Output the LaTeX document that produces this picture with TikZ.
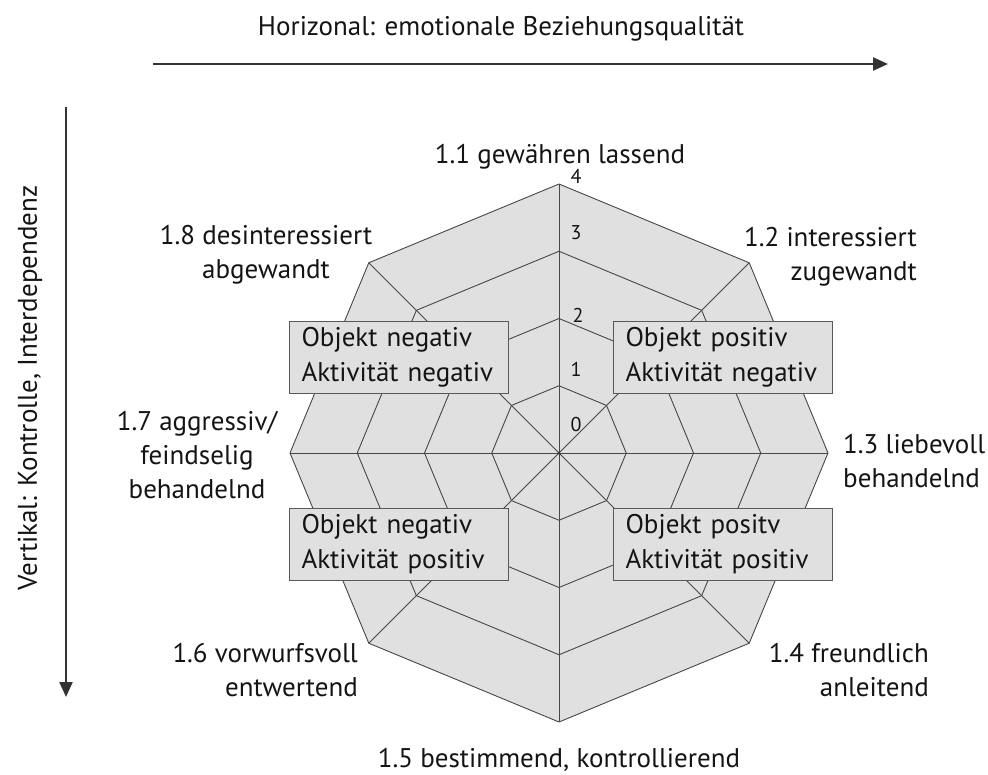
\documentclass[tikz,border=0pt]{standalone}
\usepackage{fontspec}
\setmainfont{PT Sans}
\usetikzlibrary{calc,arrows.meta}
\begin{document}
\begin{tikzpicture}[x=1pt,y=-1pt,
  lbl/.style={font=\fontsize{27}{34}\selectfont, inner sep=0pt, text=black!92},
  num/.style={font=\fontsize{20}{22}\selectfont, inner sep=0pt, text=black!92},
  quad/.style={draw=black!65, fill=black!12, line width=1pt, anchor=north west,
    minimum width=219pt, minimum height=72pt, text width=195pt, inner xsep=12pt,
    inner ysep=0pt, align=left, font=\fontsize{27}{35}\selectfont, text=black!92},
  web/.style={draw=black!72, line width=0.9pt},
  axis/.style={draw=black!80, line width=2.3pt, -{Triangle[length=15pt,width=13pt]}}]
\useasboundingbox (0,0) rectangle (988,774);
\coordinate (C) at (559,453);
% fill
\fill[black!12] ($(C)+(90:269)$) -- ($(C)+(45:269)$) -- ($(C)+(0:269)$) -- ($(C)+(-45:269)$)
  -- ($(C)+(-90:269)$) -- ($(C)+(-135:269)$) -- ($(C)+(180:269)$) -- ($(C)+(135:269)$) -- cycle;
% rings
\foreach \r in {67.25,134.5,201.75,269} {
  \draw[web] ($(C)+(90:\r)$) -- ($(C)+(45:\r)$) -- ($(C)+(0:\r)$) -- ($(C)+(-45:\r)$)
    -- ($(C)+(-90:\r)$) -- ($(C)+(-135:\r)$) -- ($(C)+(180:\r)$) -- ($(C)+(135:\r)$) -- cycle;
}
% spokes
\foreach \a in {0,45,...,315} { \draw[web] (C) -- ($(C)+(\a:269)$); }
\fill[black!80] (C) circle (1.5pt);
% scale numbers
\node[num] (n4) at (576,176) {4};
\node[num] (n3) at (576,233) {3};
\node[num] (n2) at (578,315) {2};
\node[num] (n1) at (576,369) {1};
\node[num] (n0) at (576,424) {0};
% quadrant boxes
\node[quad] (ul) at (289,321) {Objekt negativ\\Aktivität negativ};
\node[quad] (ur) at (613,321) {Objekt positiv\\Aktivität negativ};
\node[quad] (ll) at (289,508) {Objekt negativ\\Aktivität positiv};
\node[quad] (lr) at (613,508) {Objekt positv\\Aktivität positiv};
% labels
\node[lbl, anchor=base] (l1) at (560,163) {1.1 gewähren lassend};
\node[lbl, anchor=east, align=right] (l2) at (917,257) {1.2 interessiert\\zugewandt};
\node[lbl, anchor=west, align=left] (l3) at (843,461) {1.3 liebevoll\\behandelnd};
\node[lbl, anchor=east, align=right] (l4) at (929,670) {1.4 freundlich\\anleitend};
\node[lbl, anchor=base] (l5) at (559,767) {1.5 bestimmend, kontrollierend};
\node[lbl, anchor=east, align=right] (l6) at (358,670) {1.6 vorwurfsvoll\\entwertend};
\node[lbl, align=center] (l7) at (197,455) {1.7 aggressiv/\\feindselig\\behandelnd};
\node[lbl, align=center] (l8) at (266,255) {1.8 desinteressiert\\abgewandt};
% axes
\node[lbl, anchor=base] (th) at (501,35) {Horizonal: emotionale Beziehungsqualität};
\coordinate (hs) at (153,64);
\coordinate (he) at (888,64);
\draw[axis] (hs) -- (he);
\node[lbl, rotate=90] (tv) at (30,388) {Vertikal: Kontrolle, Interdependenz};
\coordinate (vs) at (66,107);
\coordinate (ve) at (66,697);
\draw[axis] (vs) -- (ve);
\end{tikzpicture}
\end{document}
